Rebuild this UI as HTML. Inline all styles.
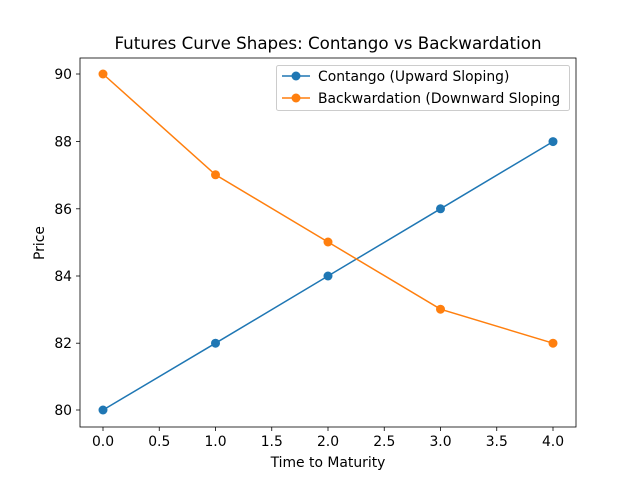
<!DOCTYPE html>
<html><head><meta charset="utf-8"><style>
body{margin:0;background:#fff}
svg text{font-family:"DejaVu Sans","Liberation Sans",sans-serif;fill:#000}
</style></head><body>
<svg width="640" height="480" viewBox="0 0 640 480" xmlns="http://www.w3.org/2000/svg">
<rect width="640" height="480" fill="#fff"/>
<text x="328" y="49" font-size="16.7" text-anchor="middle">Futures Curve Shapes: Contango vs Backwardation</text>
<rect x="80" y="58" width="496" height="369" fill="none" stroke="#000" stroke-width="0.8"/>
<g stroke="#000" stroke-width="0.8">
<line x1="103" y1="427" x2="103" y2="431"/><line x1="159.25" y1="427" x2="159.25" y2="431"/>
<line x1="215.5" y1="427" x2="215.5" y2="431"/><line x1="271.75" y1="427" x2="271.75" y2="431"/>
<line x1="328" y1="427" x2="328" y2="431"/><line x1="384.25" y1="427" x2="384.25" y2="431"/>
<line x1="440.5" y1="427" x2="440.5" y2="431"/><line x1="496.75" y1="427" x2="496.75" y2="431"/>
<line x1="553" y1="427" x2="553" y2="431"/>
<line x1="76" y1="410" x2="80" y2="410"/><line x1="76" y1="343.2" x2="80" y2="343.2"/>
<line x1="76" y1="276" x2="80" y2="276"/><line x1="76" y1="208.8" x2="80" y2="208.8"/>
<line x1="76" y1="141.6" x2="80" y2="141.6"/><line x1="76" y1="74" x2="80" y2="74"/>
</g>
<g font-size="13.9" text-anchor="middle">
<text x="103" y="446">0.0</text><text x="159.25" y="446">0.5</text><text x="215.5" y="446">1.0</text>
<text x="271.75" y="446">1.5</text><text x="328" y="446">2.0</text><text x="384.25" y="446">2.5</text>
<text x="440.5" y="446">3.0</text><text x="496.75" y="446">3.5</text><text x="553" y="446">4.0</text>
<text x="328" y="467">Time to Maturity</text>
</g>
<g font-size="13.9" text-anchor="end">
<text x="72" y="415">80</text><text x="72" y="348.2">82</text><text x="72" y="281">84</text>
<text x="72" y="213.8">86</text><text x="72" y="146.6">88</text><text x="72" y="79">90</text>
</g>
<text x="44" y="243" font-size="13.9" text-anchor="middle" transform="rotate(-90 44 243)">Price</text>
<polyline points="103,410 215.5,343.2 328,276 440.5,208.8 553,141.6" fill="none" stroke="#1f77b4" stroke-width="1.5"/>
<g fill="#1f77b4"><circle cx="103" cy="410" r="4.5"/><circle cx="215.5" cy="343.2" r="4.5"/><circle cx="328" cy="276" r="4.5"/><circle cx="440.5" cy="208.8" r="4.5"/><circle cx="553" cy="141.6" r="4.5"/></g>
<polyline points="103,74 215.5,174.8 328,242 440.5,309.2 553,343.2" fill="none" stroke="#ff7f0e" stroke-width="1.5"/>
<g fill="#ff7f0e"><circle cx="103" cy="74" r="4.5"/><circle cx="215.5" cy="174.8" r="4.5"/><circle cx="328" cy="242" r="4.5"/><circle cx="440.5" cy="309.2" r="4.5"/><circle cx="553" cy="343.2" r="4.5"/></g>
<rect x="276.5" y="65.5" width="293" height="45" rx="2" fill="#fff" fill-opacity="0.8" stroke="#ccc"/>
<line x1="282" y1="76" x2="310" y2="76" stroke="#1f77b4" stroke-width="1.5"/><circle cx="296" cy="76" r="4.5" fill="#1f77b4"/>
<line x1="282" y1="98" x2="310" y2="98" stroke="#ff7f0e" stroke-width="1.5"/><circle cx="296" cy="98" r="4.5" fill="#ff7f0e"/>
<text x="318" y="81" font-size="13.9">Contango (Upward Sloping)</text>
<text x="318" y="103" font-size="13.9">Backwardation (Downward Sloping</text>
</svg>
</body></html>
